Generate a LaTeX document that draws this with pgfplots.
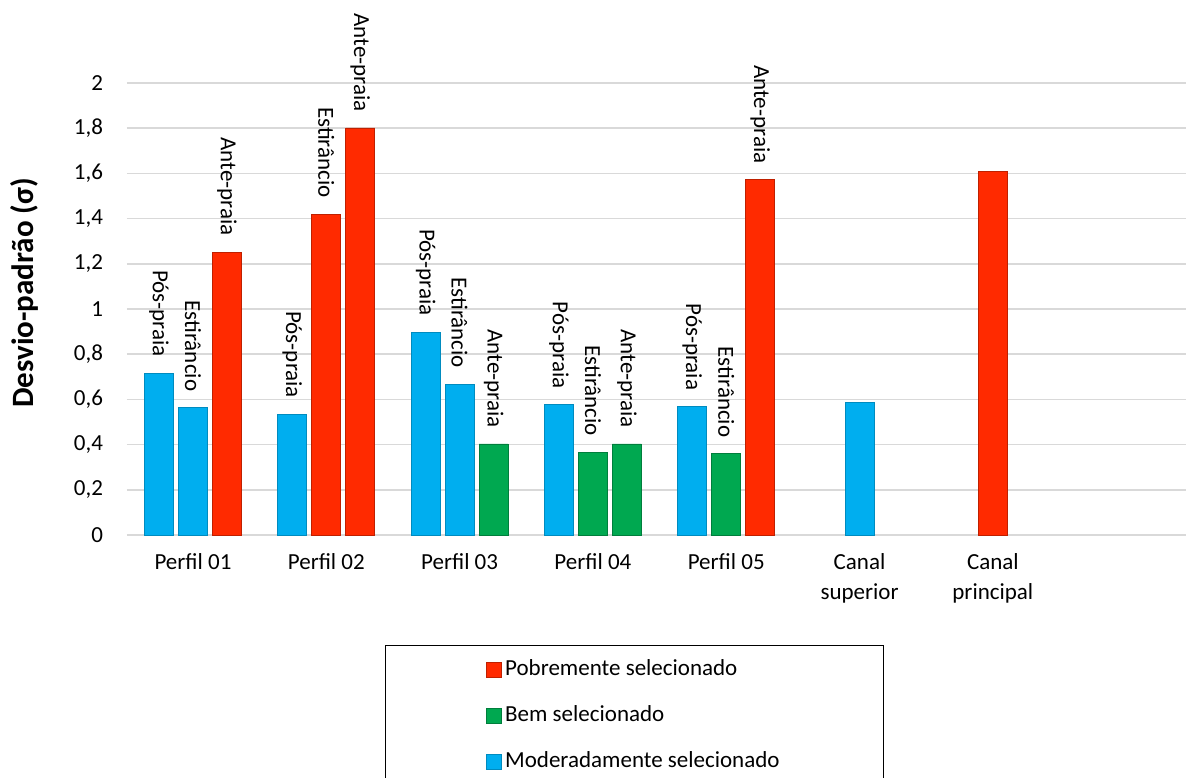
\documentclass[border=0pt]{standalone}
\usepackage{pgfplots}
\pgfplotsset{compat=1.18}
\usepackage{fontspec}
\setmainfont{Carlito}

\definecolor{pobre}{HTML}{FF2A00}
\definecolor{bem}{HTML}{00A850}
\definecolor{moder}{HTML}{00AEEF}
\definecolor{gridgray}{HTML}{D9D9D9}
\newcommand{\lab}{\fontsize{11.5pt}{15pt}\selectfont}

\begin{document}
\begin{tikzpicture}
\useasboundingbox (-63.5pt,-121pt) rectangle (529.5pt,267.5pt);
\begin{axis}[
  at={(0,0)}, anchor=south west,
  scale only axis, width=529.5pt, height=226pt,
  xmin=0.505, xmax=8.449, ymin=0, ymax=2,
  ybar, bar width=0.2175, bar shift=0pt,
  clip=false,
  axis line style={draw=none},
  major tick length=0pt,
  ymajorgrids, grid style={line width=0.75pt, color=gridgray},
  ytick={0,0.2,0.4,0.6,0.8,1,1.2,1.4,1.6,1.8,2},
  yticklabel style={anchor=east, inner sep=0pt, xshift=-11.8pt, font=\lab},
  /pgf/number format/use comma,
  /pgf/number format/fixed,
  /pgf/number format/assume math mode=true,
  xtick={1,2,3,4,5,6,7},
  xticklabels={Perfil 01, Perfil 02, Perfil 03, Perfil 04, Perfil 05,
    {Canal\\superior}, {Canal\\principal}},
  xticklabel style={anchor=north, align=center, inner sep=0pt, yshift=-9pt, font=\lab},
  ylabel={Desvio-padrão (σ)},
  ylabel style={at={(axis description cs:-0.0973,0.536)}, anchor=center,
    font=\fontsize{15.5pt}{18pt}\selectfont\bfseries},
  every node near coord/.append style={rotate=-90, anchor=east, inner xsep=8pt, font=\lab},
  legend style={at={(0.2436,-0.2434)}, anchor=north west, draw=black, line width=0.6pt,
    inner xsep=50pt, inner ysep=7pt, row sep=12.5pt, font=\lab,
    nodes={inner ysep=0pt, text height=8pt, text depth=2.5pt}, cells={anchor=west}},
  legend image code/.code={\draw[#1, line width=0.3pt] (0pt,-3.75pt) rectangle (7.5pt,3.75pt);},
]

% Pobremente selecionado
\addplot[fill=pobre, draw=pobre!75!black, line width=0.4pt,
  nodes near coords, point meta=explicit symbolic] coordinates {
  (1.255,1.252) [Ante-praia]
  (2,1.420) [Estirâncio]
  (2.255,1.801) [Ante-praia]
  (5.255,1.572) [Ante-praia]
};
\addlegendentry{Pobremente selecionado}

% Bem selecionado
\addplot[fill=bem, draw=bem!75!black, line width=0.4pt,
  nodes near coords, point meta=explicit symbolic] coordinates {
  (3.255,0.403) [Ante-praia]
  (4,0.366) [Estirâncio]
  (4.255,0.403) [Ante-praia]
  (5,0.360) [Estirâncio]
};
\addlegendentry{Bem selecionado}

% Moderadamente selecionado
\addplot[fill=moder, draw=moder!80!black, line width=0.4pt,
  nodes near coords, point meta=explicit symbolic] coordinates {
  (0.745,0.716) [Pós-praia]
  (1,0.564) [Estirâncio]
  (1.745,0.534) [Pós-praia]
  (2.745,0.898) [Pós-praia]
  (3,0.667) [Estirâncio]
  (3.745,0.576) [Pós-praia]
  (4.745,0.568) [Pós-praia]
};
\addlegendentry{Moderadamente selecionado}

% canais, sem rótulo
\addplot[forget plot, fill=moder, draw=moder!80!black, line width=0.4pt] coordinates {(6,0.585)};
\addplot[forget plot, fill=pobre, draw=pobre!75!black, line width=0.4pt] coordinates {(7,1.608)};

\end{axis}
\end{tikzpicture}
\end{document}
